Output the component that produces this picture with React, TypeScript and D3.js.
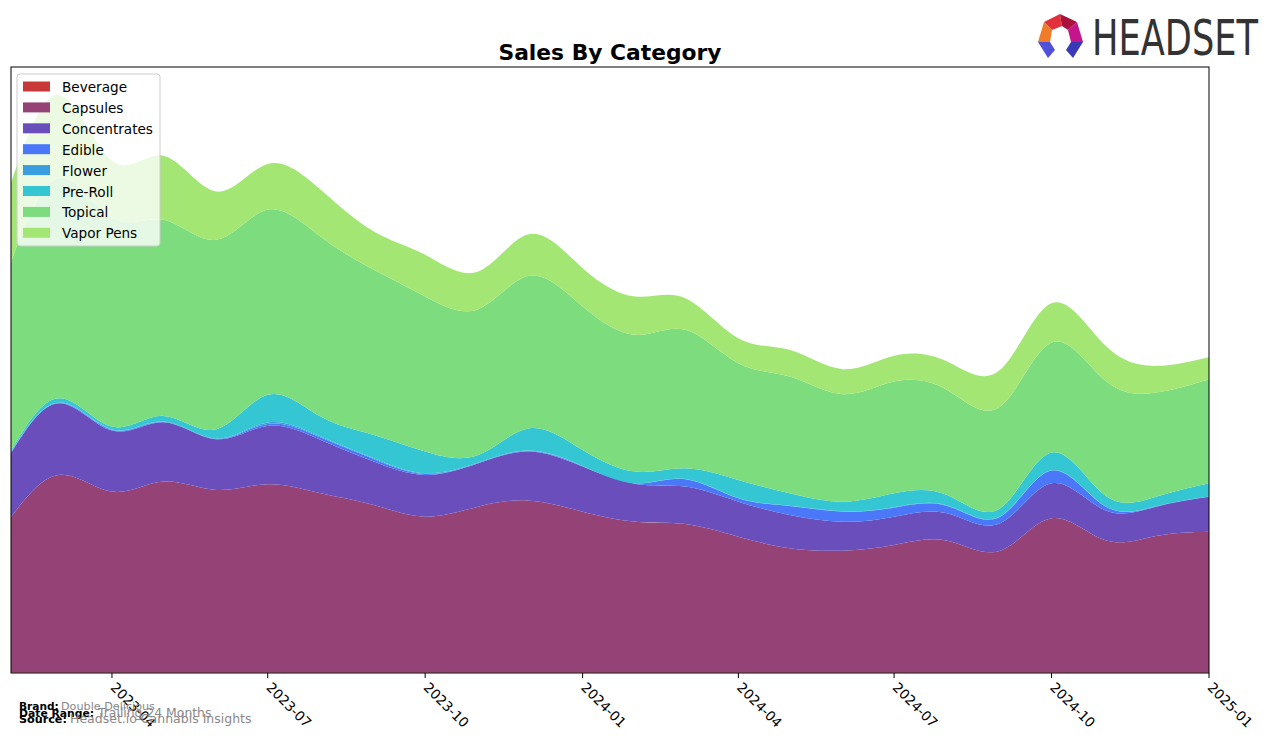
import React from "react";
import * as d3 from "d3";

const months = [
  "2023-02", "2023-03", "2023-04", "2023-05", "2023-06", "2023-07", "2023-08", "2023-09",
  "2023-10", "2023-11", "2023-12", "2024-01", "2024-02", "2024-03", "2024-04", "2024-05",
  "2024-06", "2024-07", "2024-08", "2024-09", "2024-10", "2024-11", "2024-12", "2025-01",
];

const categories = ["Beverage", "Capsules", "Concentrates", "Edible", "Flower", "Pre-Roll", "Topical", "Vapor Pens"];
const colors = ["#c83838", "#954276", "#6a4fbc", "#4a78f8", "#3a9de0", "#35c6d4", "#7cdc7e", "#a4e674"];

const beverage = [0.4, 0.4, 0.4, 0.4, 0.4, 0.4, 0.4, 0.4, 0.4, 0.4, 0.4, 0.4, 0.4, 0.4, 0.4, 0.4, 0.4, 0.4, 0.4, 0.4, 0.4, 0.4, 0.4, 0.4];
const capsules = [155.6, 197.6, 180.9, 190.9, 182.6, 188.3, 179.3, 167.6, 155.9, 165.9, 171.9, 160.9, 150.9, 148.6, 135.9, 124.3, 121.9, 127.6, 131.9, 121.9, 154.3, 132.6, 136.6, 140.9];
const concentrates = [64, 71.7, 61, 59.4, 50.7, 58.3, 53.3, 43.3, 41.7, 43.4, 49, 45, 37.7, 37.3, 35, 33.3, 29, 28.3, 27.4, 27.4, 35, 30, 29.3, 35];
const edible = [0.5, 0.3, 0.7, 0.3, 0.3, 2, 2.5, 2.7, 1, 0.3, 0.5, 0.4, 0.5, 7.4, 3.4, 9, 10, 9, 7.3, 6.6, 12.6, 4, 0.2, 0.1];
const flower = [0.5, 0.5, 0.5, 0.5, 0.5, 1.5, 0.8, 0.7, 0.7, 0.3, 0.5, 0.3, 0.2, 0.3, 0.3, 0.3, 0.4, 0.4, 0.5, 0.4, 0.4, 0.3, 0.3, 0.1];
const preRoll = [1.3, 4.2, 2.8, 5.5, 9.2, 27.7, 20, 23.3, 21.6, 7.7, 22.4, 16, 11.6, 10.7, 18, 12.4, 9.6, 14, 10.5, 8, 17.6, 10.7, 9.5, 13.2];
const topical = [188.7, 220.3, 208.7, 196, 189.3, 185, 179.7, 165, 155, 145.7, 152.3, 143.3, 136.7, 138.3, 116.7, 116.6, 107.4, 111.6, 105, 101.6, 110, 115, 104, 104];
const vaporPens = [79, 83, 57, 64, 48.3, 45.7, 47, 38.3, 41.7, 37.6, 41.7, 38.4, 38.3, 31.7, 25, 26.7, 25, 25.7, 28.3, 36.7, 39.4, 35, 26.7, 22];

const tickLabels = ["2023-04", "2023-07", "2023-10", "2024-01", "2024-04", "2024-07", "2024-10", "2025-01"];

const footerLabels = ["Brand:", "Date Range:", "Source:"];
const footerValues = ["Double Delicious", "Trailing 24 Months", "Headset.io Cannabis Insights"];

const seriesValues = [beverage, capsules, concentrates, edible, flower, preRoll, topical, vaporPens];

const W = 1276;
const H = 743;
const M = { left: 11, right: 1209, top: 67, bottom: 673 };
const FONT = "'DejaVu Sans', sans-serif";

export default function App() {
  const parse = d3.utcParse("%Y-%m");
  const rows = months.map((m, i) => {
    const r: any = { date: parse(m) };
    categories.forEach((c, k) => (r[c] = seriesValues[k][i]));
    return r;
  });
  const stack = d3.stack().keys(categories)(rows);
  const totals = rows.map((r) => d3.sum(categories, (c) => r[c]));
  const yMax = (d3.max(totals) as number) * 1.048;

  const x = d3.scaleUtc().domain([parse(months[0])!, parse(months[months.length - 1])!]).range([M.left, M.right]);
  const y = d3.scaleLinear().domain([0, yMax]).range([M.bottom, M.top]);

  const area = d3
    .area<any>()
    .x((d) => x(d.data.date))
    .y0((d) => y(d[0]))
    .y1((d) => y(d[1]))
    .curve(d3.curveNatural);

  const ticks = tickLabels.map((t) => ({ label: t, x: x(parse(t)!) }));

  const footerLayout = [
    { y: 709.5, lsize: 10.6, vsize: 11.2, vx: 61 },
    { y: 716.5, lsize: 10.8, vsize: 12.4, vx: 98 },
    { y: 723, lsize: 11.2, vsize: 12.5, vx: 70 },
  ];

  return (
    <svg width={W} height={H} style={{ position: "absolute", left: 0, top: 0, fontFamily: FONT }}>
      <rect x={0} y={0} width={W} height={H} fill="#fff" />
      <defs>
        <clipPath id="plot">
          <rect x={M.left} y={M.top} width={M.right - M.left} height={M.bottom - M.top} />
        </clipPath>
      </defs>
      <text x={610} y={60} textAnchor="middle" fontSize={21.8} fontWeight="bold" fill="#000">
        Sales By Category
      </text>
      <g clipPath="url(#plot)">
        {stack.map((s, k) => (
          <path key={categories[k]} d={area(s as any) || ""} fill={colors[k]} stroke="none" />
        ))}
      </g>
      <rect x={M.left} y={M.top} width={M.right - M.left} height={M.bottom - M.top} fill="none" stroke="#000" strokeWidth={1} />
      {ticks.map((t) => (
        <g key={t.label}>
          <line x1={t.x} x2={t.x} y1={M.bottom} y2={M.bottom + 5} stroke="#000" strokeWidth={1} />
          <g transform={`translate(${t.x + 5},${M.bottom + 8}) rotate(45)`}>
            <text x={0} y={0} dy="0.76em" fontSize={13.6} fill="#000" textAnchor="start">
              {t.label}
            </text>
          </g>
        </g>
      ))}
      {/* legend */}
      <g>
        <rect x={17} y={74} width={143} height={172} rx={3} fill="#fff" fillOpacity={0.8} stroke="#cccccc" strokeWidth={1} />
        {categories.map((c, k) => (
          <g key={c} transform={`translate(23, ${81.5 + k * 20.9})`}>
            <rect x={0} y={0} width={27} height={10} fill={colors[k]} />
            <text x={39} y={10.5} fontSize={13.6} fill="#000">
              {c}
            </text>
          </g>
        ))}
      </g>
      {/* footer */}
      <g>
        {footerLabels.map((l, i) => (
          <g key={l}>
            <text x={19} y={footerLayout[i].y} fontSize={footerLayout[i].lsize} fontWeight="bold" fill="#000">
              {l}
            </text>
            <text x={footerLayout[i].vx} y={footerLayout[i].y} fontSize={footerLayout[i].vsize} fill="#888">
              {footerValues[i]}
            </text>
          </g>
        ))}
      </g>
      {/* logo */}
      <g>
        <polygon points="1044,22 1060,14 1062,26 1052,30" fill="#e2303c" />
        <polygon points="1060,14 1077,22 1068,30 1062,26" fill="#a8123c" />
        <polygon points="1044,22 1052,30 1050,42 1038,42" fill="#f07c2a" />
        <polygon points="1077,22 1083,42 1071,42 1068,30" fill="#c4168a" />
        <polygon points="1038,42 1050,42 1055,50 1048,58" fill="#5050d8" />
        <polygon points="1083,42 1071,42 1066,50 1073,58" fill="#3a3ab8" />
        <text x={1092} y={55} fontSize={50} fontFamily="'Liberation Sans Narrow', 'DejaVu Sans Condensed', sans-serif" fill="#333" textLength={166} lengthAdjust="spacingAndGlyphs">
          HEADSET
        </text>
      </g>
    </svg>
  );
}
